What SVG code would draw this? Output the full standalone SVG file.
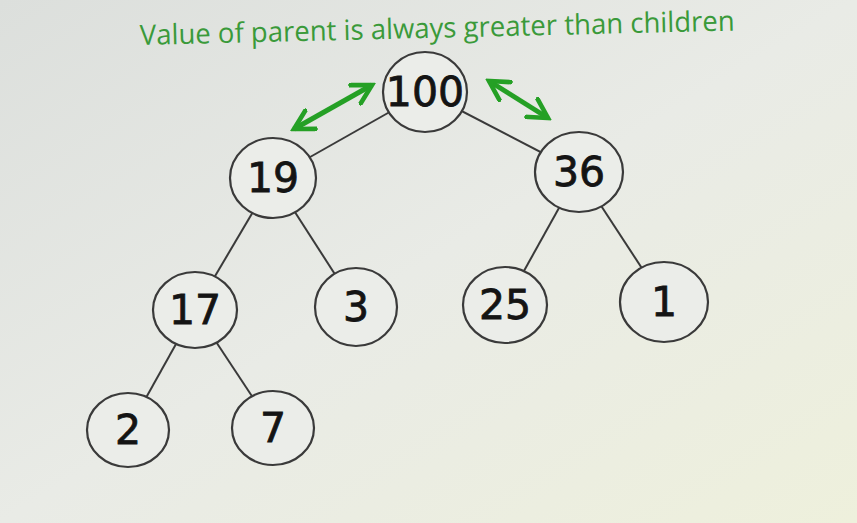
<svg xmlns="http://www.w3.org/2000/svg" width="857" height="523" viewBox="0 0 857 523">
<defs>
<linearGradient id="bg" x1="0" y1="0" x2="1" y2="1">
<stop offset="0" stop-color="#dcdfdc"/>
<stop offset="0.5" stop-color="#e9ebe6"/>
<stop offset="1" stop-color="#eef0dc"/>
</linearGradient>
<marker id="ah" viewBox="0 0 12 12" refX="10" refY="6" markerWidth="5" markerHeight="5" orient="auto-start-reverse" markerUnits="strokeWidth">
<polyline points="1,1 10,6 1,11" fill="none" stroke="#25a025" stroke-width="2.2" stroke-linecap="square"/>
</marker>
<style>
.node ellipse{fill:#ebede9;stroke:#3a3a3a;stroke-width:2.2}
.node text{font-family:"DejaVu Sans",sans-serif;font-size:41px;fill:#141414;stroke:#141414;stroke-width:0.8;text-anchor:middle}
#edges line{stroke:#3a3a3a;stroke-width:2}
.arrow{stroke:#25a025;stroke-width:5;fill:none;marker-start:url(#ah);marker-end:url(#ah)}
.title{font-family:"Open Sans",sans-serif;font-size:28px;fill:#3a9a3a}
</style>
</defs>
<rect width="857" height="523" fill="url(#bg)"/>
<text class="title" x="140" y="45" textLength="595" lengthAdjust="spacingAndGlyphs" transform="rotate(-1.4 140 45)">Value of parent is always greater than children</text>
<g id="edges">
<line x1="425" y1="92" x2="273" y2="178"/>
<line x1="425" y1="92" x2="579" y2="172"/>
<line x1="273" y1="178" x2="195" y2="310"/>
<line x1="273" y1="178" x2="356" y2="307"/>
<line x1="195" y1="310" x2="128" y2="430"/>
<line x1="195" y1="310" x2="273" y2="428"/>
<line x1="579" y1="172" x2="505" y2="305"/>
<line x1="579" y1="172" x2="664" y2="302"/>
</g>
<g id="arrows">
<line class="arrow" x1="294" y1="129" x2="372" y2="85"/>
<line class="arrow" x1="489" y1="81" x2="548" y2="118"/>
</g>
<g id="n100" class="node"><ellipse cx="425" cy="92" rx="42" ry="40"/><text x="425" y="106">100</text></g>
<g id="n19" class="node"><ellipse cx="273" cy="178" rx="43" ry="40"/><text x="273" y="192">19</text></g>
<g id="n36" class="node"><ellipse cx="579" cy="172" rx="44" ry="40"/><text x="579" y="186">36</text></g>
<g id="n17" class="node"><ellipse cx="195" cy="310" rx="42" ry="38"/><text x="195" y="324">17</text></g>
<g id="n3" class="node"><ellipse cx="356" cy="307" rx="41" ry="39"/><text x="356" y="321">3</text></g>
<g id="n25" class="node"><ellipse cx="505" cy="305" rx="42" ry="38"/><text x="505" y="319">25</text></g>
<g id="n1" class="node"><ellipse cx="664" cy="302" rx="44" ry="40"/><text x="664" y="316">1</text></g>
<g id="n2" class="node"><ellipse cx="128" cy="430" rx="41" ry="37"/><text x="128" y="444">2</text></g>
<g id="n7" class="node"><ellipse cx="273" cy="428" rx="41" ry="37"/><text x="273" y="442">7</text></g>
</svg>
